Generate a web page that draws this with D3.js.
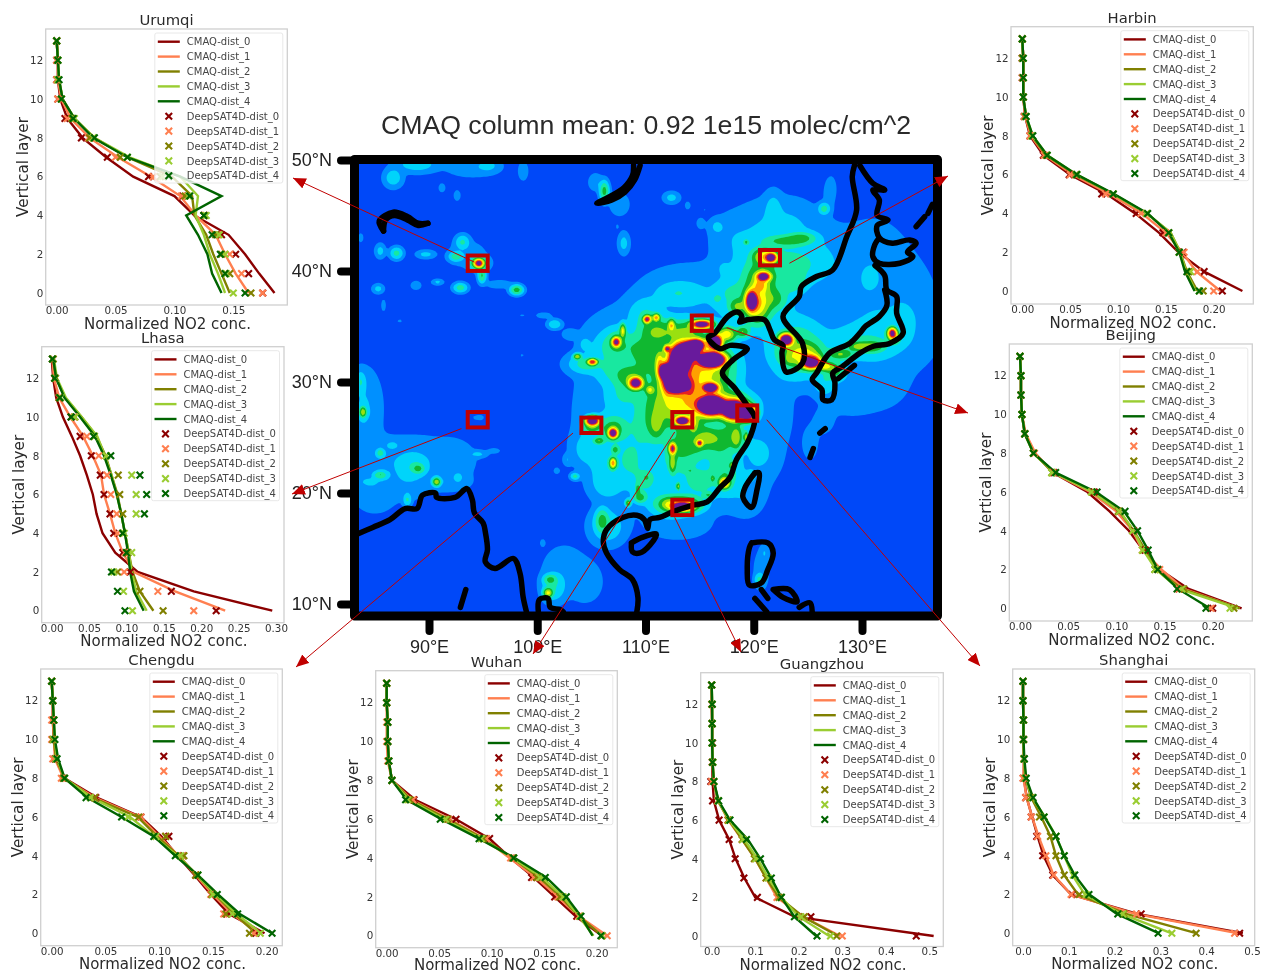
<!DOCTYPE html>
<html>
<head>
<meta charset="utf-8">
<style>
  html, body { margin: 0; padding: 0; background: #fff; }
  svg { display: block; filter: blur(0.5px); }
  text { font-family: "DejaVu Sans", sans-serif; fill: #2a2a2a; }
  .map-text { font-family: "Liberation Sans", sans-serif; }
</style>
<script src="https://cdn.jsdelivr.net/npm/d3@7"></script>
</head>
<body>
<div id="chart"></div>
<script>
// layers 0..13; rows are dist_0 .. dist_4
const urumqiCmaq = [
  [.185,.172,.160,.146,.117,.100,.065,.042,.022,.009,.003,.001,.001,0],
  [.163,.152,.143,.135,.118,.105,.080,.052,.028,.012,.004,.001,.001,0],
  [.147,.140,.133,.127,.117,.115,.098,.060,.032,.015,.005,.002,.001,0],
  [.143,.137,.130,.125,.118,.120,.105,.062,.032,.015,.005,.002,.001,0],
  [.140,.132,.128,.120,.110,.140,.105,.060,.031,.015,.005,.002,.001,0]];
const urumqiDeep = [
  [.175,.163,.152,.140,.125,.107,.078,.043,.021,.007,.001,0,0,0],
  [.175,.157,.147,.137,.126,.106,.082,.050,.027,.009,.001,0,0,0],
  [.165,.147,.140,.135,.125,.109,.088,.054,.028,.013,.004,.001,.001,0],
  [.150,.144,.143,.138,.127,.112,.090,.060,.031,.015,.004,.001,.001,0],
  [.160,.143,.139,.132,.125,.113,.095,.060,.032,.014,.004,.002,.001,0]];
const lhasaCmaq = [
  [.295,.190,.115,.085,.068,.060,.055,.047,.038,.027,.015,.006,.002,0],
  [.232,.165,.110,.095,.085,.078,.070,.066,.055,.042,.025,.010,.003,.001],
  [.136,.118,.108,.103,.098,.093,.088,.080,.072,.060,.040,.018,.006,.002],
  [.127,.113,.107,.103,.098,.093,.087,.080,.071,.061,.040,.019,.007,.003],
  [.123,.110,.105,.102,.098,.093,.087,.079,.070,.058,.038,.017,.006,.002]];
const lhasaDeep = [
  [.220,.160,.105,.095,.083,.078,.070,.065,.053,.038,.026,.010,.005,.001],
  [.190,.142,.097,.098,.088,.087,.079,.074,.063,.047,.030,.010,.004,.002],
  [.149,.118,.088,.102,.095,.095,.091,.089,.073,.057,.031,.010,.004,.002],
  [.108,.096,.083,.107,.097,.113,.113,.107,.073,.057,.031,.012,.005,.001],
  [.098,.088,.080,.100,.095,.124,.127,.118,.079,.056,.026,.011,.004,.001]];
const harbinCmaq = [
  [.230,.190,.163,.143,.118,.088,.050,.022,.008,.003,.001,.001,.001,0],
  [.207,.182,.167,.150,.125,.091,.053,.024,.009,.003,.001,.001,.001,0],
  [.183,.172,.165,.155,.130,.095,.056,.025,.010,.004,.001,.001,.001,0],
  [.181,.171,.165,.155,.130,.095,.057,.026,.011,.004,.001,.001,.001,0],
  [.180,.170,.164,.153,.131,.096,.057,.026,.011,.004,.001,.001,.001,0]];
const harbinDeep = [
  [.209,.190,.168,.147,.119,.083,.049,.022,.008,.002,.001,0,0,0],
  [.200,.183,.169,.150,.124,.087,.050,.023,.008,.002,.001,0,0,0],
  [.189,.174,.164,.153,.130,.095,.056,.025,.010,.003,.001,.001,0,0],
  [.185,.176,.164,.153,.130,.095,.057,.026,.010,.004,.001,.001,.001,0],
  [.185,.172,.164,.153,.131,.095,.057,.026,.011,.004,.001,.001,.001,0]];
const beijingCmaq = [
  [.230,.175,.145,.128,.113,.093,.070,.034,.015,.005,.002,.001,.001,0],
  [.228,.170,.147,.127,.117,.100,.073,.034,.016,.006,.002,.001,.001,0],
  [.228,.168,.142,.130,.118,.103,.076,.035,.014,.005,.002,.001,.001,0],
  [.226,.165,.141,.128,.118,.104,.075,.035,.014,.005,.002,.001,.001,0],
  [.197,.164,.143,.133,.122,.108,.079,.037,.014,.005,.002,.001,.001,0]];
const beijingDeep = [
  [.200,.165,.143,.130,.118,.103,.077,.035,.014,.005,.002,.001,.001,0],
  [.198,.165,.145,.127,.117,.102,.075,.034,.015,.005,.002,.001,.001,0],
  [.222,.170,.140,.128,.117,.102,.075,.033,.014,.005,.002,.001,.001,0],
  [.218,.168,.140,.127,.117,.103,.074,.033,.014,.005,.002,.001,.001,0],
  [.193,.163,.143,.133,.122,.109,.080,.037,.014,.005,.002,.001,.001,0]];
const chengduCmaq = [
  [.198,.165,.148,.133,.117,.102,.083,.042,.012,.004,.002,.001,.001,0],
  [.192,.168,.150,.134,.118,.100,.082,.040,.011,.003,.002,.001,.001,0],
  [.190,.170,.152,.135,.118,.098,.080,.038,.012,.004,.002,.002,.001,0],
  [.195,.172,.153,.135,.117,.095,.073,.037,.012,.005,.003,.002,.001,0],
  [.205,.175,.155,.136,.115,.095,.065,.033,.012,.006,.003,.002,.001,0]];
const chengduDeep = [
  [.190,.163,.149,.134,.122,.109,.083,.041,.011,.003,.001,.001,.001,0],
  [.188,.160,.148,.134,.122,.106,.083,.040,.009,.001,0,0,.001,0],
  [.184,.162,.149,.134,.123,.106,.081,.040,.011,.004,.001,.002,.001,0],
  [.194,.168,.150,.136,.120,.097,.071,.036,.012,.004,.002,.002,.001,0],
  [.205,.173,.154,.136,.115,.095,.065,.032,.012,.005,.003,.002,.001,0]];
const wuhanCmaq = [
  [.205,.180,.160,.140,.118,.098,.066,.027,.005,.002,.001,.001,0,0],
  [.210,.183,.163,.142,.117,.093,.060,.024,.005,.001,0,0,0,0],
  [.205,.183,.166,.145,.120,.092,.058,.023,.005,.002,.001,.001,0,0],
  [.197,.183,.168,.148,.120,.090,.055,.021,.005,.002,.001,.001,0,0],
  [.196,.185,.171,.152,.122,.088,.052,.019,.005,.002,.001,.001,0,0]];
const wuhanDeep = [
  [.205,.181,.160,.138,.120,.098,.066,.026,.005,.002,.001,.001,0,0],
  [.210,.183,.163,.140,.118,.095,.059,.025,.005,.001,0,0,0,0],
  [.205,.184,.165,.143,.120,.092,.058,.022,.005,.002,.001,.001,0,0],
  [.205,.184,.168,.146,.121,.090,.056,.020,.005,.002,.001,.001,0,0],
  [.204,.185,.171,.151,.121,.088,.051,.018,.005,.002,.001,.001,0,0]];
const guangzhouCmaq = [
  [.510,.190,.100,.075,.055,.040,.017,.005,.002,.001,.001,.001,0,0],
  [.295,.210,.150,.125,.100,.070,.038,.015,.004,.002,.001,.001,0,0],
  [.290,.210,.155,.125,.100,.070,.040,.014,.005,.002,.001,.001,.001,0],
  [.270,.200,.160,.130,.105,.075,.040,.015,.005,.002,.001,.001,.001,0],
  [.240,.190,.160,.137,.112,.083,.042,.016,.005,.002,.001,.001,.001,0]];
const guangzhouDeep = [
  [.470,.228,.105,.074,.054,.040,.017,.002,-.002,.002,.002,.001,.001,0],
  [.300,.212,.150,.125,.100,.070,.037,.014,0,.001,.001,.001,0,0],
  [.287,.213,.155,.125,.098,.070,.038,.015,.005,.002,.001,.001,.001,0],
  [.273,.205,.160,.130,.102,.072,.040,.015,.005,.003,.001,.001,.001,0],
  [.242,.190,.160,.137,.112,.080,.042,.016,.005,.002,.001,.001,.001,0]];
const shanghaiCmaq = [
  [.480,.250,.105,.065,.045,.032,.020,.008,.002,.002,.001,.001,0,0],
  [.470,.245,.105,.067,.050,.034,.020,.008,.001,.002,.001,.001,0,0],
  [.380,.225,.120,.090,.072,.060,.040,.018,.005,.002,.001,.001,0,0],
  [.325,.215,.135,.108,.090,.072,.048,.020,.006,.002,.001,.001,0,0],
  [.297,.205,.145,.113,.090,.072,.047,.022,.007,.003,.001,.001,0,0]];
const shanghaiDeep = [
  [.473,.258,.107,.065,.043,.030,.018,.006,.001,.002,.001,.001,0,0],
  [.462,.248,.105,.067,.050,.032,.018,.006,0,.002,.001,.001,0,0],
  [.378,.220,.123,.090,.072,.060,.036,.016,.005,.002,.001,.001,0,0],
  [.325,.218,.138,.110,.090,.072,.046,.020,.006,.002,.001,.001,0,0],
  [.295,.207,.144,.113,.090,.072,.046,.022,.007,.003,.001,.001,0,0]];

const layers = d3.range(14);
const distNames = [0, 1, 2, 3, 4];
const distColors = ['#8b0000', '#ff7f50', '#808000', '#9acd32', '#006400'];

// city, frame [left right top bottom], x at 0, x at refValue, refValue, y at layer 0, y at layer 12
const panelLayout = [
  ['Urumqi',    [45.7, 287.3, 29, 305],      56.7, 233.3, .15, 293, 60.3, [0,.05,.1,.15], '.2f', urumqiCmaq, urumqiDeep],
  ['Lhasa',     [41.7, 284, 346.7, 622.7],   51.7, 276, .3, 610.7, 378.3, [0,.05,.1,.15,.2,.25,.3], '.2f', lhasaCmaq, lhasaDeep],
  ['Harbin',    [1011, 1253.3, 26.7, 304],   1022.3, 1213.7, .2, 291, 58.3, [0,.05,.1,.15,.2], '.2f', harbinCmaq, harbinDeep],
  ['Beijing',   [1009.3, 1252.3, 344, 621],  1020, 1212.7, .2, 608.3, 375.7, [0,.05,.1,.15,.2], '.2f', beijingCmaq, beijingDeep],
  ['Chengdu',   [40.7, 282.3, 669, 945.7],   51.7, 266.7, .2, 933.3, 700.7, [0,.05,.1,.15,.2], '.2f', chengduCmaq, chengduDeep],
  ['Wuhan',     [375.7, 617.3, 670.7, 947.7], 386.7, 596.7, .2, 935.7, 702.7, [0,.05,.1,.15,.2], '.2f', wuhanCmaq, wuhanDeep],
  ['Guangzhou', [700.7, 943.3, 672.7, 946.5], 711.7, 929.3, .5, 936, 704.3, [0,.1,.2,.3,.4,.5], '.1f', guangzhouCmaq, guangzhouDeep],
  ['Shanghai',  [1012.7, 1254.7, 669, 945.7], 1023, 1252, .5, 933.3, 700.7, [0,.1,.2,.3,.4,.5], '.1f', shanghaiCmaq, shanghaiDeep]
];

// column field: lon, lat, peak level, spread lon, spread lat
const hotspots = [
  // far west, Xinjiang and Gansu
  [88.9,49.6,2.6,1.8,.7],[94,49.3,1.8,2.3,.8],[95.5,49.5,2.2,1,.6],[98.7,49,1.6,.5,.9],[86.7,48.4,2.7,.8,.8],
  [91.2,47.5,1.4,.4,.5],[92.6,46.8,1.4,.4,.6],[106.2,47.2,4.5,.4,.8],[105.4,48,2,.6,.7],[107.6,46,2,.8,.9],
  [108,42.5,2.4,.5,.9],[107.4,44,1.3,.2,.3],[93.1,42.6,3.2,.6,.6],[93.5,41.5,1.6,1.8,1.2],[94.6,40.7,10,.38,.33],[94.6,40.7,6,.7,.5],
  [92.5,41.3,3.8,.6,.4],[94.9,39.6,4.2,.35,.6],[96.5,38.8,1.6,1.3,.4],[98.1,38.3,4.6,.55,.4],[92.9,38.5,3.6,.6,.4],
  [90.8,39,2.3,.5,.25],[88.8,38.7,1.7,.5,.4],[85.3,38.4,2.4,.5,.4],[87,41.6,3.4,.55,.5],[85.5,41.8,2.4,.45,.6],
  [89.7,41.5,2.4,.8,.35],[83.7,43,1.4,.3,.5],[85.8,36.9,1.5,.25,.6],[87.3,35.5,1.3,.3,.2],[98.6,36,1.3,.3,.15],
  [100.6,36,1.5,.8,.3],[101.6,35.2,3,.6,.4],[103,34.3,2,.6,.4],[104.4,33.4,2.5,.5,.6],[98.6,32.4,1.3,.2,.2],
  [107.3,33.6,10,.38,.42],[107.9,34.6,6.5,.25,.6],[107.5,33.5,3.6,1.3,1.3],[105.1,31.8,9.5,.42,.25],[103.7,32.3,6,.35,.25],
  [104.5,31.6,3.4,1.5,.8],[109.1,29.9,11,.6,.5],[108.5,30.5,4.5,1.3,1],[109.5,33,3.5,1.2,1.2],[110.2,35.7,8,.35,.3],
  // Ganges plain and Bengal
  [83.9,27.3,6,.3,.45],[84,28,1.7,1.5,3],[83.7,30,3,.45,.9],[84,27,1.7,1.5,3.5],[86,23,1.8,2.5,2],[89,23,1.8,2.5,2],
  [92,23,1.8,2.2,1.8],[94.5,23.5,2.3,.8,.3],[96,23.8,1.4,.7,.3],[85,20,1.7,2,1.8],[88,21,1.8,2.5,1.5],[92,21,1.6,2,.9],
  [85.5,23.6,3.8,.35,.35],[89,22.2,4.2,.6,.45],[85.5,21.6,4,.6,.35],[90.7,21,6,.35,.35],[88,19.4,3.2,.35,.55],[92.7,21.4,2.5,.4,.4],
  [84.5,21,2.6,.7,.3],[86.6,24.3,2.6,.5,.3],[88.5,22.5,2.6,1.2,1],
  [94.8,26.8,2,.2,.15],[94.5,26.8,1.3,.6,.3],
  // Indochina
  [101,11,6.5,.4,.4],[101.2,12.2,4.3,.6,.45],[102.5,13,1.7,2,2.2],[104.5,12,1.7,1.5,1.8],[100.5,15.5,1.4,.3,.4],[101.5,11.5,3,1,1.2],
  [106,17.5,4.4,.6,1],[106.5,17,2.8,1.5,1.5],[101.8,22,2,.25,.25],[103.5,21.5,3.5,.4,.3],[102.8,23,2,.4,.5],
  // Sichuan and the south west
  [105.1,26.5,12,.55,.36],[105.2,26,3.5,.8,.4],[105,26,4.5,.8,.7],[107,25.4,11,.4,.42],[107,25.8,4.5,1.3,1.1],[107,22.7,8,.3,.45],[107.2,23.9,4.5,.35,.4],
  [105.7,24.7,5,.5,.3],[108.4,19.1,5.5,.25,.3],[109.3,20.3,5,.2,.5],
  // eastern China broad background
  [104.5,24,2.5,1.2,1.5],[106.5,21,2.8,1.5,1.5],[106,23,2.6,1.2,1.5],[108.5,23,3,1.5,2],[110,26,3.2,1.5,2],[110,21,3,1.5,1.5],[112,19,3.2,1.7,1.2],
  [113,23,3.3,1.6,1.5],[115,21,3.2,1.8,1.5],[117,23,3.2,1.3,1.8],[118,26,3.6,1.2,1.5],[115,25,3.6,1.8,1.5],[112,28,4.2,2,1.8],
  [108,29,3,1.5,1.5],[107,31,3,1.6,1.2],[107,33,3,1.8,1.5],[110,32,3.8,1.8,2],[110,36,3,1.5,1.5],[113,38,2.8,2,1],[118,38,2.8,1.5,1.1],
  [107,27,1.8,3.5,5],[110,24,1.8,4,5],[115,22,2,4.5,3.5],[120,24,1.8,1.8,3.5],[108,33,1.8,4,3.5],[113,33,1.8,5,4],
  [114,38,1.8,4.5,2.5],[118,37,1.8,3,3],[121,37,1.7,2.5,2],
  // north east
  [118,43,1.7,2,2],[112.4,46.6,2.4,.7,.5],[113.9,45.9,1.5,.3,.4],[115.1,44.3,1.6,.4,.5],[116.6,44,2.2,.7,.7],
  [115.5,45.5,1.2,.15,.2],[117.1,40.3,1.7,.8,.9],[121.8,45.7,2.3,.8,1.4],[127.2,47.5,1.7,.35,.8],[126.5,45.6,3.5,.5,.5],
  [122,44,1.8,3.5,2.3],[125,42,1.9,3.5,2.5],[119.3,42.6,4.5,.25,.25],[121.6,41.2,11,.5,.4],[121,41.3,6.5,1,.7],
  [123,42.7,4.3,2,.5],[124,40.5,3,3,1.8],[120.7,39.5,4.5,1.4,1.6],[120.3,37.5,4.5,1.5,2.2],[121,39.5,3,3.2,4],
  [124.4,43,4.2,1.3,.5],[120.9,39.5,11,.6,.38],[120.6,38.7,6.5,.7,.7],[119.8,37.3,12,.5,.85],[120.3,37,6.5,1,1.4],
  [118.5,36.8,5,.8,.7],[121.8,37.5,4.2,1.2,1],[123.6,39,3.5,1.2,1],[116.6,37.5,3.2,.4,.4],
  // North China plain
  [115.2,35.2,11,.9,.35],[110.1,35.6,8,.3,.3],[111,35.8,8,.3,.3],[112.4,35.1,7,.3,.5],[111,34.5,5,1.5,1.2],[113.5,34.5,5,1.8,1],[112,33,9.5,.3,.3],
  [113.2,32,15,.9,1.2],[112.8,29.9,15,1,.8],[116.1,32,15,1.1,.6],[116.4,33.6,13,.6,.6],[114.7,33.3,13,.7,.5],[114,32.8,15,.8,.7],[111.9,30.9,14,.6,.7],[114.1,29.5,7,.7,1],
  [114.5,31,7,3,2.7],[113,28,5,3,2.5],[117.5,34.3,6.7,.8,.6],[119,34.5,5,.6,.5],[111.3,31.7,6.5,.4,1],
  // Yangtze and the south
  [116.1,27.9,15,1.1,.75],[118.2,27.5,15,1,.75],[116,29.5,12,.7,.4],[119.4,27.2,13,.7,.6],[116,28,7,3,1.2],[113.4,26.5,13,.55,.32],
  [112.5,24,9.5,.32,.5],[115,24.5,9.5,.28,.28],[117.3,20.9,8.5,.45,.45],[113.4,18.8,13,.85,.32],[113.4,18.9,6,1.6,.7],[113,20.6,6,.15,.3],
  [111,26.2,5,.7,1.3],[114,24.5,4.2,2,1.5],[117,24.8,4.4,1.6,1.2],[115.7,25,4.5,.9,.7],[118.4,25,5.5,.5,1],[119.3,25,6,.2,.5],[114.4,26.3,6,.5,.7],
  [112.5,22.7,5.5,.3,.9],[110.4,29.3,6,.4,.4],[112,29,5,.5,.6],[110.1,21.4,3.5,.5,.5],[114.1,22,4,.2,.2],[116.2,21.3,4.8,.2,.3],[118,22.5,6,.2,.3],
  [112,19,4.5,.6,.5],[115.8,19.8,4,.5,.3],[109.5,19.6,4.5,.6,.5],[113,19,4.5,1.8,.7],[117.5,21.5,3.5,1.2,1.5],
  // Korea and Japan
  [123,33.8,12,.6,.5],[125.3,31.8,12,.8,.55],[124.5,32.5,6.3,1.6,1],[123.3,32,4,.5,.5],[124,33,4,2.5,2.5],[126.6,31.4,6.5,.8,.4],
  [128,32.5,5,1.2,.5],[129.8,33.2,5.5,1,.4],[131,33.2,5,1,.5],[132.8,34.4,10,.4,.45],[133,34,6,.5,.5],[130,33.5,3,3.5,1.5],
  [131.5,34.5,1.9,3.5,2.5],[127.5,31,4.5,.9,.8],[126.5,30,2.8,1,1.2],
  // seas, faint
  [123.3,44.4,1.6,2.5,2],[127,47,1.5,.6,1.5],[130,38,1.8,4,4],[131,41,1.7,3,3.5],[134,37,1.7,2.5,4],[135.3,35,1.5,2,3.5],
  [131.6,30.5,1.6,3,3],[128.8,29,1.6,2.5,2],[126.5,26.5,1.3,1.2,1.5],[125.2,24.5,1.3,1,2],[122.4,27.5,1.6,1.3,3.5],[121,23.5,1.8,1.5,2],
  [119,20,1.6,2,1.5],[113,17,1.5,3,1.3],[119.3,19,1.6,1.3,1.2],[119.7,21.5,2,.6,.6],
  // Philippines
  [121,14.6,2,.4,.7],[120.5,12.2,3.3,.4,.5],[120.7,13,1.7,.7,1.8],[119.5,14.5,1.4,.2,.5]
];
const fieldLevels = [1, 2, 3, 4, 5, 6, 7, 8, 9];
const fieldColors = ['#0090ff', '#00d4fa', '#18e8a0', '#10b830', '#9ae010', '#ffff00', '#ffa000', '#e82020', '#681a9c'];
const fieldBase = '#0048f8';

// coast polylines lon/lat
const coastLines = [
  [[83.4,16.3],[84.8,16.9],[86.4,17.6],[87.8,18.6],[88.9,18.6],[89.4,19.8],[90.6,20],[90.7,19.6],[92.4,19.6],[93.5,20.4],[94,19.4],[94.2,18.2],[95,17.3],[95.2,16.5],[95.4,14.9],[95.2,13.8],[96.1,13.2],[97.8,14.1],[98.4,12.8],[98.7,10.6],[99,9.3]],
  [[93.4,11.3],[92.9,9.7]],
  [[100.1,9.3],[100.2,10.4],[101,10.5],[101.2,9.7],[102.1,9.5],[102.4,9.3]],
  [[109.2,9.3],[109.3,10.6],[108.8,12.2],[107.6,13.1],[106.4,14.6],[106.1,15.6],[106.4,16.7],[107.9,17.8],[109.2,18],[109.9,17.6],[110.2,16.8],[110.4,17.6],[111.3,17.8],[112.5,18.3],[114.4,18.9],[115.7,19.2],[116.9,20.5],[117.8,21.4],[118.4,23],[119.4,24.5],[119.9,25.7],[120.1,26.8],[119.4,27.9],[118.2,29.5],[117.1,30.8],[118.1,32],[119.4,33],[117.8,33.3],[116.9,33],[115.8,34],[116.4,34.4],[117.6,35.9],[118.5,36.3],[118.9,35.9],[118.7,35.4],[119.4,35.6],[121,35.6],[121.5,34.7],[121.9,33.8],[122.7,33.3],[122.6,32.6],[123,30.9],[124.5,31.7],[124.5,33.5],[122.7,35.9],[124.2,37.7],[124.4,38.6],[125.8,39.5],[127.3,40.1],[128.6,43.1],[129.5,45.5],[129.1,48.5],[129.3,49.5]],
  [[129.8,49.5],[131,47.9],[132.1,47.3],[131,47.3],[131.6,46.4],[131.4,45],[132.4,44.6],[131.4,44.1],[131.6,43],[132.8,42.5],[134.4,42.8],[135,42.5],[134.2,41.7],[134.7,41.3],[133.5,40.7],[131.6,40.7],[131,41.3],[131.2,42.4],[131.6,43]],
  [[131.2,40.5],[132.1,39.6],[132.3,38.3],[133.2,37.7],[133.2,36.2],[133.8,34.4],[132.6,33.5],[131,33.2],[129.8,32.6],[128.2,31.4],[127.3,30.8],[127.5,29.9],[127.2,28.4],[126.4,28.4],[126.3,29.3],[125.4,30.2],[125.8,30.8],[127,32.6],[128.9,33.5],[129.8,34.4],[130.3,35],[131.6,35.9],[132.3,36.9],[132.1,38.3]],
  [[127.8,30.3],[129.3,31.5]],
  [[135,44],[135.8,44.9]],
  [[136.1,45.2],[136.5,46]],
  [[126.1,25.4],[126.6,25.8]],
  [[125.2,23.2],[125.5,24]],
  [[120.1,21.8],[119.2,20.5],[119,19.6],[119.8,18.7],[120.3,20.3],[120.5,21.8],[120.1,21.8]],
  [[108.7,15.5],[109.7,16],[111,16.3],[110.4,15.3],[109.5,14.6],[108.8,14.7],[108.7,15.5]],
  [[119.8,15.5],[121.3,15.5],[121.8,14.6],[121.3,13.1],[120.7,11.9],[119.6,11.7],[119.4,13.1],[119.6,15.1],[119.8,15.5]],
  [[120.1,10.5],[121.2,9.3]],
  [[121.3,10.5],[120.7,11.3]],
  [[121.8,11.3],[123.3,11.3],[124,10.2],[122.7,10.6],[121.8,11.3]],
  [[124.2,9.7],[125.2,10.1],[125.4,9.3]]
];
const lakeLines = [
  [[85.8,43.6],[85.4,44.5],[86.7,45.3],[88,44.9],[89,44.3],[89.9,44.3]],
  [[85.8,43.6],[86,44.6],[86.8,45],[88,44.6],[89,44.1],[89.9,44.3]],
  [[109.5,49.5],[109,48.2],[108.1,47.1],[106.9,46.4],[105.5,46.1],[106.5,46.6],[108,47.5],[108.8,48.6],[108.9,49.5]]
];

// city box centres, arrow starts on the map and arrow tips beside the panels
const cityNames = ['Urumqi', 'Harbin', 'Beijing', 'Shanghai', 'Guangzhou', 'Wuhan', 'Chengdu', 'Lhasa'];
const cityLon = [94.5, 121.5, 115.2, 119.4, 113.4, 113.4, 105, 94.5];
const cityLat = [40.7, 41.2, 35.3, 27.2, 18.7, 26.6, 26.1, 26.6];
const arrowLon = [94.2, 123.3, 117.5, 121.2, 112.7, 112.7, 103.3, 93];
const arrowLat = [40.8, 40.7, 34.9, 26.6, 17.8, 25.5, 25.4, 25.8];
const arrowTips = [[293, 178], [948, 176], [968, 413], [980, 666], [741, 652], [533, 654], [296, 667], [292, 494]];

const mapTicksLat = [10, 20, 30, 40, 50];
const mapTicksLon = [90, 100, 110, 120, 130];
const mapTitle = 'CMAQ column mean: 0.92 1e15 molec/cm^2';

const svg = d3.select('#chart').append('svg')
    .attr('width', 1262)
    .attr('height', 974);

// ------ map ------
const mapX = d3.scaleLinear().domain([90, 130]).range([429, 862]);
const mapY = d3.scaleLinear().domain([10, 50]).range([604, 160]);
const lonRange = [mapX.invert(358.7), mapX.invert(933)];
const latRange = [mapY.invert(612), mapY.invert(164)];

svg.append('clipPath').attr('id', 'mapClip')
  .append('rect')
    .attr('x', mapX(lonRange[0]))
    .attr('y', mapY(latRange[1]))
    .attr('width', mapX(lonRange[1]) - mapX(lonRange[0]))
    .attr('height', mapY(latRange[0]) - mapY(latRange[1]));

const gridW = 290, gridH = 226;
const gridLon = d3.scaleLinear().domain([0, gridW - 1]).range(lonRange);
const gridLat = d3.scaleLinear().domain([0, gridH - 1]).range([latRange[1], latRange[0]]);
const field = new Float64Array(gridW * gridH);
for (let j = 0; j < gridH; j++) {
  for (let i = 0; i < gridW; i++) {
    const lon = gridLon(i), lat = gridLat(j);
    let s = 0;
    for (const h of hotspots) {
      const dx = (lon - h[0]) / h[3], dy = (lat - h[1]) / h[4];
      const e = dx * dx + dy * dy;
      if (e > 20) continue;
      s += Math.pow(h[2] * Math.exp(-e / 2), 3);
    }
    field[j * gridW + i] = Math.cbrt(s);
  }
}

const contours = d3.contours().size([gridW, gridH]).thresholds(fieldLevels)(field);
const fieldColor = d3.scaleOrdinal().domain(fieldLevels).range(fieldColors);
const fieldPath = d3.geoPath(d3.geoTransform({
  point(px, py) { this.stream.point(mapX(gridLon(px - .5)), mapY(gridLat(py - .5))); }
}));

const mapG = svg.append('g').attr('clip-path', 'url(#mapClip)');
mapG.append('rect')
    .attr('x', 350).attr('y', 155)
    .attr('width', 600).attr('height', 470)
    .attr('fill', fieldBase);
mapG.selectAll('path.level')
    .data(contours)
  .join('path')
    .attr('class', 'level')
    .attr('d', fieldPath)
    .attr('fill', d => fieldColor(d.value));

const coast = d3.line().x(d => mapX(d[0])).y(d => mapY(d[1])).curve(d3.curveCatmullRom.alpha(.5));
mapG.selectAll('path.coast')
    .data(coastLines.concat(lakeLines))
  .join('path')
    .attr('class', 'coast')
    .attr('d', coast)
    .attr('fill', 'none')
    .attr('stroke', '#000')
    .attr('stroke-width', 5.5)
    .attr('stroke-linejoin', 'round')
    .attr('stroke-linecap', 'round');

// thick frame and ticks
svg.append('rect')
    .attr('x', 354.5).attr('y', 159.5)
    .attr('width', 583).attr('height', 456.5)
    .attr('fill', 'none')
    .attr('stroke', '#000')
    .attr('stroke-width', 9)
    .attr('stroke-linejoin', 'round');

const lonAxis = svg.append('g')
    .attr('class', 'map-text')
    .attr('transform', 'translate(0,616)')
    .call(d3.axisBottom(mapX).tickValues(mapTicksLon).tickSize(15).tickPadding(9).tickFormat(d => d + '°E'));
const latAxis = svg.append('g')
    .attr('class', 'map-text')
    .attr('transform', 'translate(354,0)')
    .call(d3.axisLeft(mapY).tickValues(mapTicksLat).tickSize(13).tickPadding(9).tickFormat(d => d + '°N'));
for (const ax of [lonAxis, latAxis]) {
  ax.select('.domain').remove();
  ax.selectAll('line').attr('stroke', '#000').attr('stroke-width', 8).attr('stroke-linecap', 'round');
  ax.selectAll('text').attr('class', 'map-text').attr('font-size', 18).style('fill', '#222');
}

svg.append('text')
    .attr('class', 'map-text')
    .attr('x', 646).attr('y', 134)
    .attr('text-anchor', 'middle')
    .attr('font-size', 26.7)
    .text(mapTitle);

// ------ panels ------
const symX = d3.symbol(d3.symbolX, 30);

panelLayout.forEach(([name, frame, x0, xRef, refVal, y0, y12, xTicks, fmt, cmaq, deep]) => {
  const [left, right, top, bottom] = frame;
  const x = d3.scaleLinear().domain([0, refVal]).range([x0, xRef]);
  const y = d3.scaleLinear().domain([0, 12]).range([y0, y12]);
  const g = svg.append('g').attr('class', 'panel');

  g.append('rect')
      .attr('x', left).attr('y', top)
      .attr('width', right - left).attr('height', bottom - top)
      .attr('fill', '#fff')
      .attr('stroke', '#cfcfcf')
      .attr('stroke-width', 1.3);

  const xAxis = g.append('g')
      .attr('transform', `translate(0,${bottom})`)
      .call(d3.axisBottom(x).tickValues(xTicks).tickSize(0).tickPadding(1.5).tickFormat(d3.format(fmt)));
  const yAxis = g.append('g')
      .attr('transform', `translate(${left},0)`)
      .call(d3.axisLeft(y).tickValues(d3.range(0, 13, 2)).tickSize(0).tickPadding(2.5));
  for (const ax of [xAxis, yAxis]) {
    ax.select('.domain').remove();
    ax.selectAll('line').remove();
    ax.selectAll('text').attr('font-size', 10.3).style('fill', '#333');
  }

  const line = d3.line().x(d => x(d)).y((d, i) => y(i));
  g.selectAll('path.cmaq')
      .data(cmaq)
    .join('path')
      .attr('class', 'cmaq')
      .attr('d', line)
      .attr('fill', 'none')
      .attr('stroke', (d, i) => distColors[i])
      .attr('stroke-width', 2.4);

  deep.forEach((row, k) => {
    g.selectAll(`path.deep${k}`)
        .data(row)
      .join('path')
        .attr('class', `deep${k}`)
        .attr('d', symX)
        .attr('transform', (d, i) => `translate(${x(d)},${y(i)})`)
        .attr('fill', 'none')
        .attr('stroke', distColors[k])
        .attr('stroke-width', 2.1);
  });

  // legend
  const legW = 128, legH = 150;
  const leg = g.append('g').attr('transform', `translate(${right - 4.5 - legW},${top + 4})`);
  leg.append('rect')
      .attr('width', legW).attr('height', legH).attr('rx', 2)
      .attr('fill', '#fff').attr('fill-opacity', .8)
      .attr('stroke', '#e8e8e8');
  const rowY = d3.scaleLinear().domain([0, 1]).range([8.7, 23.6]);
  distNames.forEach((n, k) => {
    leg.append('line')
        .attr('x1', 3).attr('x2', 25)
        .attr('y1', rowY(k)).attr('y2', rowY(k))
        .attr('stroke', distColors[k]).attr('stroke-width', 2.4);
    leg.append('text')
        .attr('x', 32).attr('y', rowY(k) + 3.6)
        .attr('font-size', 10).style('fill', '#444')
        .text(`CMAQ-dist_${n}`);
    leg.append('path')
        .attr('d', symX)
        .attr('transform', `translate(14,${rowY(k + 5)})`)
        .attr('fill', 'none')
        .attr('stroke', distColors[k])
        .attr('stroke-width', 2.1);
    leg.append('text')
        .attr('x', 32).attr('y', rowY(k + 5) + 3.6)
        .attr('font-size', 10).style('fill', '#444')
        .text(`DeepSAT4D-dist_${n}`);
  });

  g.append('text')
      .attr('x', (left + right) / 2).attr('y', top - 4)
      .attr('text-anchor', 'middle')
      .attr('font-size', 14.8)
      .text(name);
  g.append('text')
      .attr('x', (left + right) / 2 + 1).attr('y', Math.min(bottom + 23.5, 970))
      .attr('text-anchor', 'middle')
      .attr('font-size', 15)
      .text('Normalized NO2 conc.');
  g.append('text')
      .attr('transform', `translate(${left - 18},${(top + bottom) / 2}) rotate(-90)`)
      .attr('text-anchor', 'middle')
      .attr('font-size', 15.2)
      .text('Vertical layer');
});

// ------ city boxes and arrows ------
svg.append('defs').append('marker')
    .attr('id', 'head')
    .attr('markerUnits', 'userSpaceOnUse')
    .attr('viewBox', '0 0 14 12')
    .attr('markerWidth', 13).attr('markerHeight', 11)
    .attr('refX', 14).attr('refY', 6)
    .attr('orient', 'auto')
  .append('path')
    .attr('d', 'M0,0L14,6L0,12Z')
    .attr('fill', '#c00000');

svg.selectAll('line.arrow')
    .data(cityNames)
  .join('line')
    .attr('class', 'arrow')
    .attr('x1', (d, i) => mapX(arrowLon[i]))
    .attr('y1', (d, i) => mapY(arrowLat[i]))
    .attr('x2', (d, i) => arrowTips[i][0])
    .attr('y2', (d, i) => arrowTips[i][1])
    .attr('stroke', '#c00000')
    .attr('stroke-width', 1)
    .attr('marker-end', 'url(#head)');

svg.selectAll('rect.city')
    .data(cityNames)
  .join('rect')
    .attr('class', 'city')
    .attr('x', (d, i) => mapX(cityLon[i]) - 10)
    .attr('y', (d, i) => mapY(cityLat[i]) - 7.7)
    .attr('width', 20)
    .attr('height', 15.4)
    .attr('fill', 'none')
    .attr('stroke', '#c00000')
    .attr('stroke-width', 4);
</script>
</body>
</html>
